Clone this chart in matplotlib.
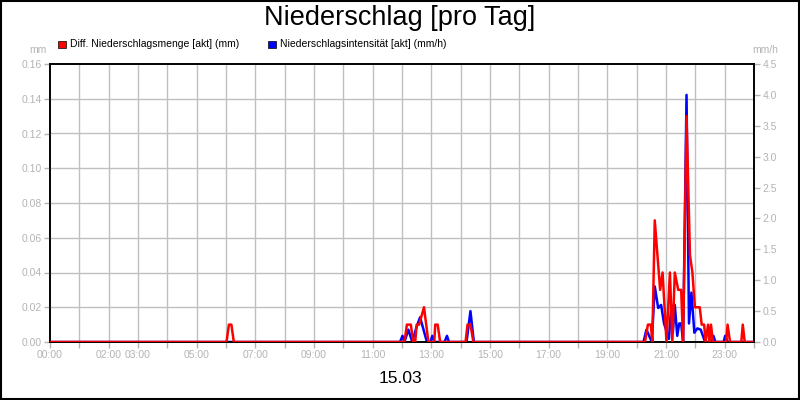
import numpy as np
import matplotlib.pyplot as plt
from matplotlib.patches import Rectangle

plt.rcParams['font.family'] = ['Liberation Sans', 'DejaVu Sans']

# Diff. Niederschlagsmenge (mm), Zeit in Minuten seit 00:00
rot_min = [0, 361, 366, 371, 376,
           725, 730, 738, 743, 747, 750, 755, 765, 774, 786, 788, 793, 798,
           850, 854, 860, 866,
           1217, 1223, 1229, 1232, 1237, 1248, 1253, 1261, 1268, 1273, 1278,
           1285, 1291, 1295, 1302, 1309, 1314, 1319, 1329, 1333, 1338, 1341,
           1346, 1349, 1352, 1356, 1383, 1386, 1391, 1414, 1417, 1421, 1440]
rot_mm = [0, 0, 0.01, 0.01, 0,
          0, 0.01, 0.01, 0, 0, 0.01, 0.01, 0.02, 0, 0, 0.01, 0.01, 0,
          0, 0.01, 0.01, 0,
          0, 0.01, 0.01, 0, 0.07, 0.03, 0.04, 0, 0.04, 0, 0.04,
          0.03, 0.03, 0, 0.13, 0.05, 0.04, 0.02, 0.02, 0.01, 0.01, 0,
          0.01, 0, 0.01, 0, 0, 0.01, 0, 0, 0.01, 0, 0]

# Niederschlagsintensitaet (mm/h)
blau_min = [0, 716, 721, 725, 733, 741, 750, 757, 764, 771, 778, 782, 786,
            807, 812, 816, 852, 860, 867,
            1214, 1220, 1231, 1237, 1244, 1250, 1256, 1262, 1266, 1271, 1274,
            1278, 1283, 1287, 1291, 1295, 1302, 1307, 1312, 1318, 1324, 1331,
            1340, 1354, 1357, 1361, 1378, 1381, 1386, 1440]
blau_mmh = [0, 0, 0.1, 0, 0.2, 0, 0.25, 0.4, 0.2, 0, 0, 0.1, 0,
            0, 0.1, 0, 0, 0.5, 0,
            0, 0.2, 0, 0.9, 0.55, 0.6, 0.3, 0.15, 0.05, 0.6, 0.15,
            0.6, 0.1, 0.3, 0.3, 0, 4.0, 0.3, 0.8, 0.15, 0.22, 0.2,
            0, 0, 0.1, 0, 0, 0.1, 0, 0]

x_labels = {0: "00:00", 2: "02:00", 3: "03:00", 5: "05:00", 7: "07:00",
            9: "09:00", 11: "11:00", 13: "13:00", 15: "15:00", 17: "17:00",
            19: "19:00", 21: "21:00", 23: "23:00"}
left_ticks = np.arange(0, 0.161, 0.02)
right_ticks = np.arange(0, 4.51, 0.5)

grau = '#b4b4b4'
gitter = '#c0c0c0'

fig = plt.figure(figsize=(8, 4), dpi=100)
ax = fig.add_axes([0.0625, 0.145, 0.88, 0.695])
ax2 = ax.twinx()

t_rot = np.array(rot_min) / 60.0
t_blau = np.array(blau_min) / 60.0

ax2.plot(t_blau, blau_mmh, color='#0000ff', lw=1.8, zorder=2)
ax.set_zorder(ax2.get_zorder() + 1)
ax.patch.set_visible(False)
ax.plot(t_rot, rot_mm, color='#ff0000', lw=1.8, zorder=3)

ax.set_xlim(0, 24)
ax.set_ylim(0, 0.16)
ax2.set_ylim(0, 4.5)

ax.set_xticks(range(25))
ax.set_xticklabels([x_labels.get(h, "") for h in range(25)])
ax.set_yticks(left_ticks)
ax.set_yticklabels(["%.2f" % v for v in left_ticks])
ax2.set_yticks(right_ticks)
ax2.set_yticklabels(["%.1f" % v for v in right_ticks])

ax2.grid(False)
ax.grid(True, color=gitter, lw=1)
ax.set_axisbelow(True)
# Gitter hinter den Linien zeichnen
ax2.patch.set_visible(True)
ax2.set_xticks(range(25))
for h in range(1, 24):
    ax2.axvline(h, color=gitter, lw=1, zorder=0)
for v in left_ticks[1:-1]:
    ax2.axhline(v / 0.16 * 4.5, color=gitter, lw=1, zorder=0)
ax.grid(False)

for a in (ax, ax2):
    a.tick_params(colors=grau, labelsize=7.5, length=4, width=1, pad=2)
    for s in a.spines.values():
        s.set_color('black')
        s.set_linewidth(1.2)

fig.text(0.5, 0.955, "Niederschlag [pro Tag]", ha='center', va='center',
         fontsize=19.5)
fig.text(0.5, 0.053, "15.03", ha='center', va='center', fontsize=12.5)
fig.text(0.058, 0.875, "mm", ha='right', va='center', fontsize=7.5, color=grau)
fig.text(0.94, 0.875, "mm/h", ha='left', va='center', fontsize=7.5, color=grau)

fig.patches.append(Rectangle((0.0725, 0.88), 0.01, 0.018, transform=fig.transFigure,
                             facecolor='#ff0000', edgecolor='black', lw=0.5))
fig.text(0.0875, 0.889, "Diff. Niederschlagsmenge [akt] (mm)", ha='left',
         va='center', fontsize=7.5)
fig.patches.append(Rectangle((0.335, 0.88), 0.01, 0.018, transform=fig.transFigure,
                             facecolor='#0000ff', edgecolor='black', lw=0.5))
fig.text(0.35, 0.889, "Niederschlagsintensität [akt] (mm/h)", ha='left',
         va='center', fontsize=7.5)

fig.patches.append(Rectangle((0.001, 0.003), 0.998, 0.995, transform=fig.transFigure,
                             fill=False, edgecolor='black', lw=1.5))

fig.savefig('out.png', dpi=100)
